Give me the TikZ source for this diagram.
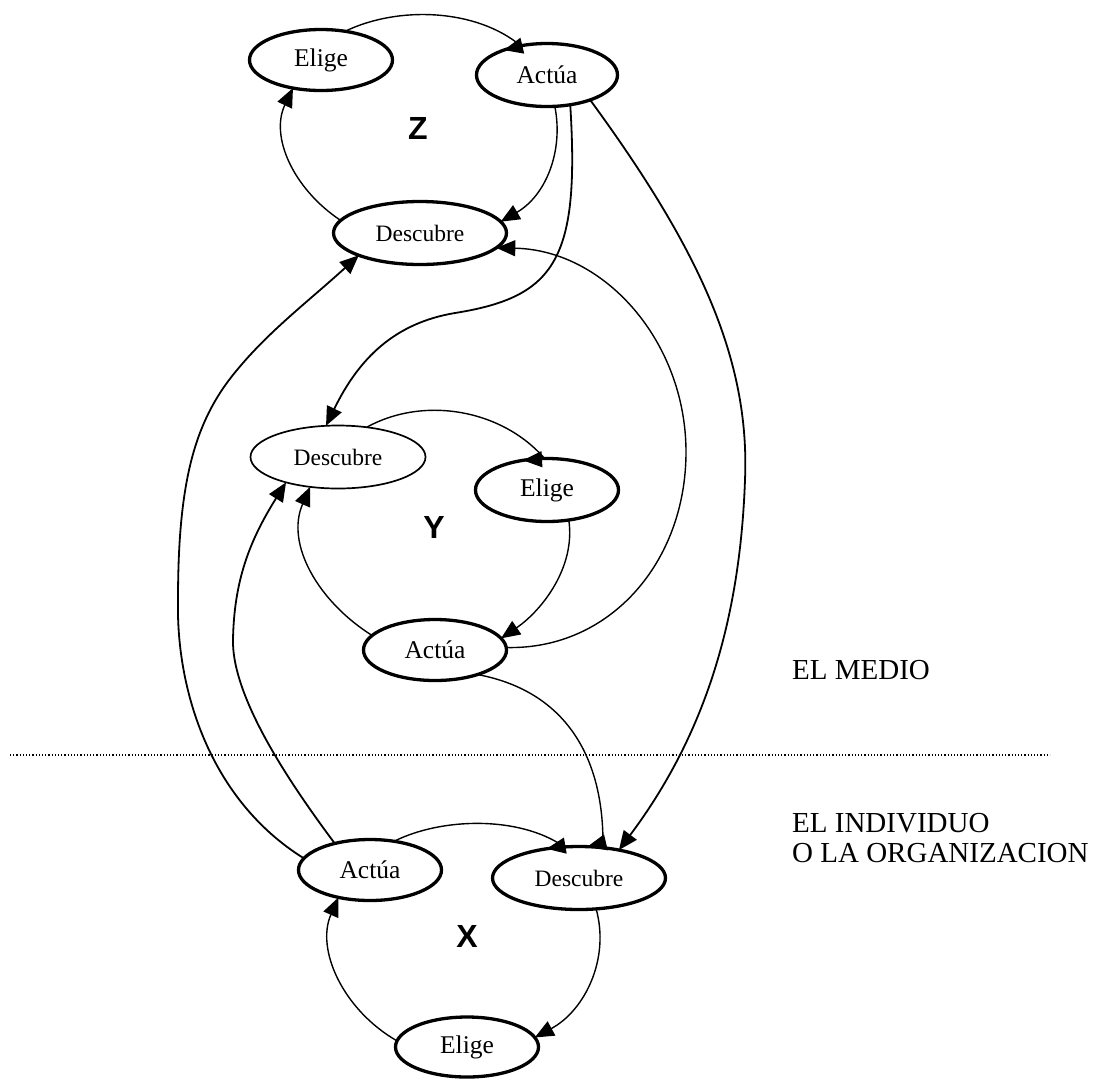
\documentclass[tikz,border=0pt]{standalone}
\usepackage{fontspec}
\setmainfont{Liberation Serif}
\newfontfamily\lsans{Liberation Sans Bold}
\usetikzlibrary{arrows.meta,shapes.geometric}
\begin{document}
\begin{tikzpicture}[x=1pt,y=1pt,
  st/.style={ellipse,draw,line width=3.3pt,inner sep=0pt,outer sep=0pt,font=\fontsize{25.5}{26}\selectfont},
  thinst/.style={st,line width=1.7pt},
  ds/.style={font=\fontsize{23.5}{24}\selectfont},
  tip/.style={-{Triangle[length=19pt,width=16pt]}},
  cyc/.style={line width=1.4pt,tip},
  lnk/.style={line width=1.8pt,tip},
  lbl/.style={font=\lsans\fontsize{32}{34}\selectfont},
  side/.style={anchor=base west,font=\fontsize{29}{30}\selectfont,inner sep=0pt},
  divider/.style={line width=1.2pt,dash pattern=on 1.2pt off 2pt}]
\useasboundingbox (0,0) rectangle (1096,-1080);
\clip (0,0) rectangle (1096,-1080);

% Z cycle
\node[st,minimum width=143pt,minimum height=61pt] (zel) at (321,-60) {Elige};
\node[st,minimum width=141pt,minimum height=63pt] (zac) at (547,-75) {Actúa};
\node[st,ds,minimum width=173pt,minimum height=63pt] (zde) at (420,-233) {Descubre};
% Y cycle
\node[thinst,ds,minimum width=175pt,minimum height=63pt] (yde) at (338,-457) {Descubre};
\node[st,minimum width=143pt,minimum height=63pt] (yel) at (547,-490) {Elige};
\node[st,minimum width=143pt,minimum height=61pt] (yac) at (435,-650) {Actúa};
% X cycle
\node[st,minimum width=143pt,minimum height=61pt] (xac) at (370,-870) {Actúa};
\node[st,ds,minimum width=173pt,minimum height=63pt] (xde) at (579,-878) {Descubre};
\node[st,minimum width=143pt,minimum height=60pt] (xel) at (467,-1047) {Elige};

% cycle labels
\node[lbl] (zl) at (418,-128) {Z};
\node[lbl] (yl) at (434,-527) {Y};
\node[lbl] (xl) at (467,-936) {X};

% Z cycle arcs
\draw[cyc] (zel.50) .. controls +(54,26) and +(-44,37) .. (521,-46) -- (zac.150);
\draw[cyc] (zac.-76) .. controls +(9,-45) and +(45,26) .. (zde.8);
\draw[cyc] (zde.171) .. controls +(-48,32) and +(-23,-48) .. (zel.225);
% Y cycle arcs
\draw[cyc] (yde.46) .. controls +(58,32) and +(-42,49) .. (545,-459) -- (yel.129);
\draw[cyc] (yel.-54) .. controls +(7,-47) and +(41,28) .. (yac.10);
\draw[cyc] (yac.167) .. controls +(-54,34) and +(-25,-57) .. (yde.227);
% X cycle arcs
\draw[cyc] (xac.50) .. controls +(48,24) and +(-44,30) .. (563,-846) -- (xde.138);
\draw[cyc] (xde.-61) .. controls +(14,-50) and +(50,27) .. (xel.8);
\draw[cyc] (xel.175) .. controls +(-54,31) and +(-23,-52) .. (xac.221);

% cross links
\draw[lnk] (zac.-52) .. controls (580,-260) and (555,-297) .. (455,-313)
  .. controls (395,-323) and (359,-358) .. (yde.111);
\draw[lnk] (zac.-30) .. controls (700,-250) and (750,-360) .. (745,-480)
  .. controls (740,-620) and (705,-735) .. (xde.35);
\draw[cyc] (yac.2) .. controls (610,-650) and (686,-562) .. (686,-452)
  .. controls (686,-342) and (605,-250) .. (zde.-11);
\draw[cyc] (yac.-30) .. controls (560,-690) and (603,-750) .. (603,-843) -- (xde.75);
\draw[lnk] (xac.170) .. controls (210,-800) and (176,-690) .. (178,-600)
  .. controls (178,-480) and (195,-420) .. (237,-370)
  .. controls (270,-330) and (310,-300) .. (zde.200);
\draw[lnk] (xac.143) .. controls (295,-790) and (232,-700) .. (233,-640)
  .. controls (234,-580) and (250,-540) .. (yde.206);

% divider and side texts
\coordinate (dl) at (10,-755);
\coordinate (dr) at (1050,-755);
\draw[divider] (dl) -- (dr);
\node[side] (medio) at (792,-679) {EL MEDIO};
\node[side] (indiv) at (792,-832) {EL INDIVIDUO};
\node[side] (organ) at (792,-862) {O LA ORGANIZACION};
\end{tikzpicture}
\end{document}
